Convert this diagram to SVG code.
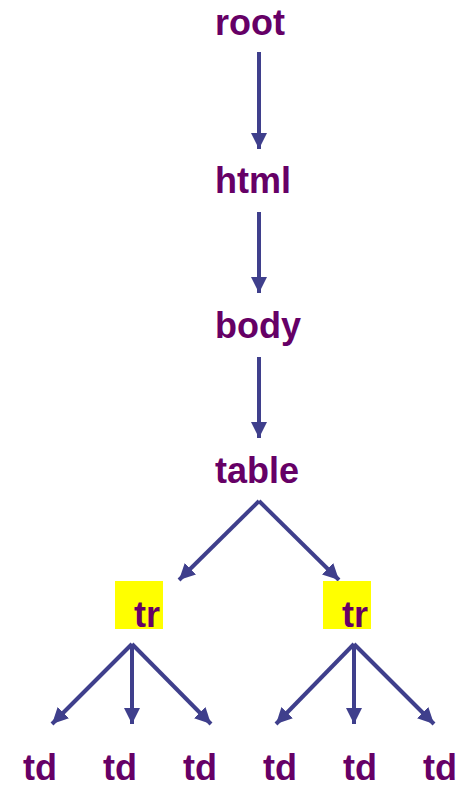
<svg xmlns="http://www.w3.org/2000/svg" width="463" height="788" viewBox="0 0 463 788">
  <style>
    .lbl { font-family: "Liberation Sans", Arial, sans-serif; font-weight: bold; font-size: 36px; fill: #660066; }
    .edge { stroke: #3f3f8c; stroke-width: 4; fill: none; marker-end: url(#arrow); }
    .hl { fill: #ffff00; }
  </style>
  <defs>
    <marker id="arrow" markerUnits="userSpaceOnUse" markerWidth="18" markerHeight="18" refX="16" refY="8" orient="auto">
      <path d="M0,0 L16,8 L0,16 Z" fill="#3f3f8c"/>
    </marker>
  </defs>

  <g id="connectors">
    <line class="edge" x1="259" y1="52" x2="259" y2="149"/>
    <line class="edge" x1="259" y1="212" x2="259" y2="293"/>
    <line class="edge" x1="259" y1="357" x2="259" y2="438"/>
    <line class="edge" x1="259" y1="501" x2="179" y2="580"/>
    <line class="edge" x1="259" y1="501" x2="339" y2="580"/>
    <line class="edge" x1="132" y1="644" x2="52" y2="724"/>
    <line class="edge" x1="132" y1="644" x2="132" y2="724"/>
    <line class="edge" x1="132" y1="644" x2="211" y2="724"/>
    <line class="edge" x1="354" y1="644" x2="276" y2="724"/>
    <line class="edge" x1="354" y1="644" x2="354" y2="724"/>
    <line class="edge" x1="354" y1="644" x2="434" y2="724"/>
  </g>

  <g id="root"><text class="lbl" x="215" y="35">root</text></g>
  <g id="html"><text class="lbl" x="215" y="193">html</text></g>
  <g id="body"><text class="lbl" x="215" y="338">body</text></g>
  <g id="table"><text class="lbl" x="215" y="483">table</text></g>

  <g id="tr1">
    <rect class="hl" x="115" y="581" width="48" height="48"/>
    <text class="lbl" x="134" y="627">tr</text>
  </g>
  <g id="tr2">
    <rect class="hl" x="323" y="581" width="48" height="48"/>
    <text class="lbl" x="342" y="627">tr</text>
  </g>

  <g id="td1"><text class="lbl" x="23" y="780">td</text></g>
  <g id="td2"><text class="lbl" x="103" y="780">td</text></g>
  <g id="td3"><text class="lbl" x="183" y="780">td</text></g>
  <g id="td4"><text class="lbl" x="263" y="780">td</text></g>
  <g id="td5"><text class="lbl" x="343" y="780">td</text></g>
  <g id="td6"><text class="lbl" x="423" y="780">td</text></g>
</svg>
